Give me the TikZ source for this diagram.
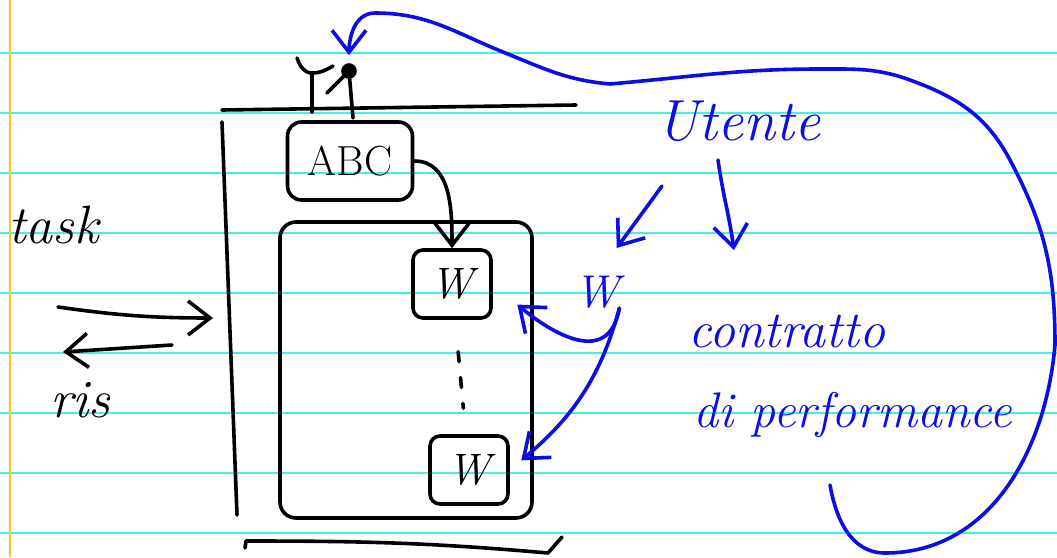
\documentclass[tikz,border=0pt]{standalone}
\usepackage{fontspec}
\usetikzlibrary{arrows.meta}

\definecolor{inkblue}{RGB}{12,12,228}
\definecolor{ruling}{RGB}{64,240,240}
\definecolor{margin}{RGB}{255,196,32}

\tikzset{
  pen/.style={line width=3.6pt,line cap=round,line join=round},
  bluepen/.style={pen,draw=inkblue},
  hand/.style={inner sep=0pt,font=\itshape\fontsize{#1}{#1}\selectfont},
  wbox/.style={draw,pen,rounded corners=10pt,minimum width=78pt,minimum height=68pt,hand=44},
}

\begin{document}
\begin{tikzpicture}[x=1pt,y=1pt,>={Straight Barb[length=22pt,width=34pt]}]
  % paper
  \useasboundingbox (0,0) rectangle (1057,-557);
  \fill[white] (0,0) rectangle (1057,-557);
  \foreach \y in {53,113,...,533}
    \draw[ruling,line width=2pt] (0,-\y) -- (1057,-\y);
  \draw[margin,line width=1.5pt] (10,0) -- (10,-557);

  % server
  \draw[pen] (222,-110) -- (576,-105);
  \draw[pen] (222,-122) -- (237,-515);
  \draw[pen] (245,-548) -- (246,-541) to[out=0,in=175] (548,-553) -- (562,-537);
  \draw[pen,rounded corners=16pt] (280,-222) rectangle (532,-518);

  \node[draw,pen,rounded corners=14pt,minimum width=125pt,minimum height=78pt,
        font=\fontsize{42}{42}\selectfont] (abc) at (350,-161) {ABC};
  \node[wbox] (wtop) at (452,-284) {W};
  \node[wbox] (wbot) at (469,-470) {W};
  \draw[pen,->] (abc.east) to[out=0,in=90] (wtop.north);
  \draw[pen,dash pattern=on 10pt off 16pt,shorten <=32pt,shorten >=26pt] (wtop) -- (wbot);

  % users
  \node[circle,draw,pen,fill=black,minimum size=12pt,inner sep=0pt] (head) at (349,-71) {};
  \draw[pen] (head) -- (353,-118);
  \draw[pen] (327,-93) -- (head);
  \draw[pen] (297,-58) to[out=-70,in=180] (312,-73) to[out=0,in=-150] (333,-66);
  \draw[pen] (312,-73) -- (312,-112);

  % task and answer
  \node[hand=54,anchor=base west] (task) at (8,-243) {task};
  \node[hand=54,anchor=base west] (ris) at (50,-417) {ris};
  \coordinate (req) at (58,-307);
  \coordinate (wall) at (213,-318);
  \coordinate (back) at (172,-345);
  \coordinate (resp) at (63,-352);
  \draw[pen,->] (req) to[bend right=4] (wall);
  \draw[pen,->] (back) -- (resp);

  % user side
  \node[hand=58,anchor=base west,text=inkblue] (utente) at (656,-140) {Utente};
  \node[hand=46,anchor=base west,text=inkblue] (wblue) at (574,-307) {W};
  \node[hand=52,anchor=base west,text=inkblue] (contratto) at (688,-347) {contratto};
  \node[hand=50,anchor=base west,text=inkblue] (perf) at (693,-427) {di performance};
  \coordinate (u1) at (662,-186);
  \coordinate (u2) at (718,-160);
  \draw[bluepen,->,shorten >=34pt] (u1) -- (wblue.north);
  \draw[bluepen,->] (u2) to[out=-82,in=98] ++(16,-90);
  \draw[bluepen,->,shorten >=32pt] (wblue.south east) to[out=-100,in=-40,looseness=1.3] (wtop.east);
  \draw[bluepen,->,shorten >=15pt] (wblue.south east) to[out=-105,in=40] (wbot.east);

  % loop back to the user
  \coordinate (loop) at (830,-485);
  \draw[bluepen,->,shorten >=8pt] (loop) to[out=-80,in=180] (885,-553) to[out=0,in=-95] (1055,-345)
    to[out=90,in=-62] (1010,-160) to[out=118,in=-20] (910,-80) to[out=160,in=0] (820,-69)
    to[out=180,in=5] (610,-84) to[out=175,in=-22] (503,-52) to[out=158,in=0] (375,-13)
    to[out=180,in=90] (head);
\end{tikzpicture}
\end{document}
